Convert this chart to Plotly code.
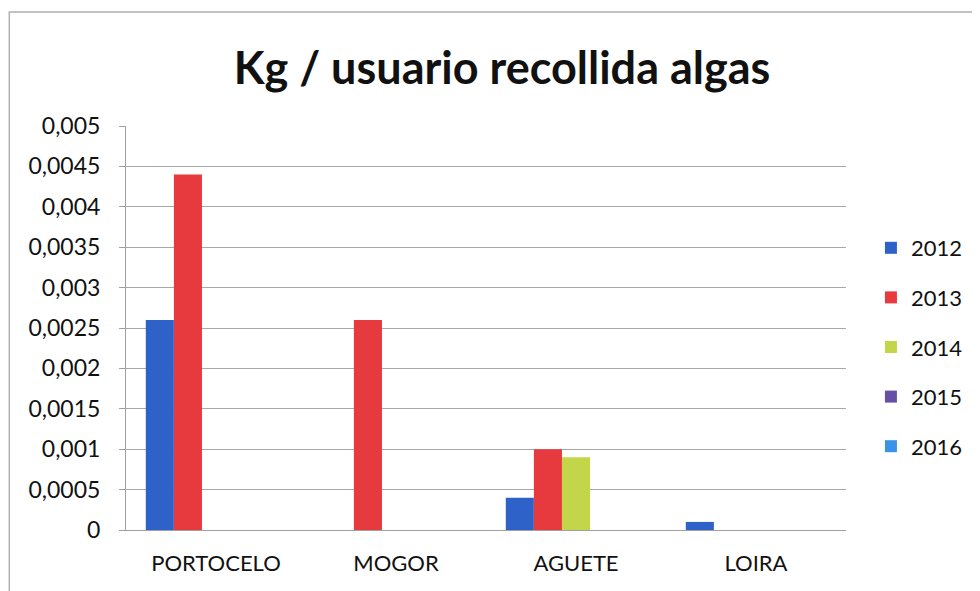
import plotly.graph_objects as go

categories = ["PORTOCELO", "MOGOR", "AGUETE", "LOIRA"]
years = ["2012", "2013", "2014", "2015", "2016"]
v2012 = [0.0026, 0, 0.0004, 0.0001]
v2013 = [0.0044, 0.0026, 0.001, 0]
v2014 = [0, 0, 0.0009, 0]
v2015 = [0, 0, 0, 0]
v2016 = [0, 0, 0, 0]
series = [v2012, v2013, v2014, v2015, v2016]
colors = ["#2F62C8", "#E63A3E", "#C3D64A", "#6650A6", "#3A93E6"]

tickvals = [0, 0.0005, 0.001, 0.0015, 0.002, 0.0025, 0.003, 0.0035, 0.004, 0.0045, 0.005]
ticktext = ["0", "0,0005", "0,001", "0,0015", "0,002", "0,0025", "0,003", "0,0035", "0,004", "0,0045", "0,005"]

FONT = "Lato"

fig = go.Figure()
for y, vals, c in zip(years, series, colors):
    fig.add_trace(go.Bar(name=y, x=categories, y=vals, marker=dict(color=c, line=dict(width=0)),
                         legendgroup=y))

W, H = 972, 583
L, T, R, B = 118, 118, 132, 61
pw, ph = W - L - R, H - T - B

fig.update_layout(
    width=W, height=H,
    paper_bgcolor="white", plot_bgcolor="white",
    margin=dict(l=L, r=R, t=T, b=B),
    barmode="group", bargap=0.22, bargroupgap=0,
    font=dict(family=FONT, size=22, color="#111111"),
    title=dict(text="<b>Kg / usuario recollida algas</b>", x=494 / W, xanchor="center",
               y=1 - 60 / H, yanchor="middle", font=dict(family=FONT, size=45, color="#111111")),
    legend=dict(x=(865 - L) / pw, xanchor="left", y=1 - (339 - T) / ph, yanchor="middle",
                font=dict(size=22), traceorder="grouped", tracegroupgap=18, itemwidth=30),
    xaxis=dict(showline=True, linecolor="#A0A0A0", linewidth=1, ticks="", tickfont=dict(size=22),
               ticklabelstandoff=14, showgrid=False),
    yaxis=dict(range=[0, 0.005], tickvals=tickvals, ticktext=ticktext, showgrid=True,
               gridcolor="#A8A8A8", gridwidth=1, showline=True, linecolor="#A0A0A0",
               ticks="outside", ticklen=6, tickcolor="#A0A0A0", tickfont=dict(size=23),
               ticklabelstandoff=14, zeroline=False),
    shapes=[dict(type="rect", xref="paper", yref="paper", x0=-(L - 1) / pw, x1=1 + (R + 20) / pw,
                 y0=-(B + 20) / ph, y1=1 + (T - 4) / ph,
                 line=dict(color="#B0B0B0", width=1.5))],
)
fig.write_html("out.html")
